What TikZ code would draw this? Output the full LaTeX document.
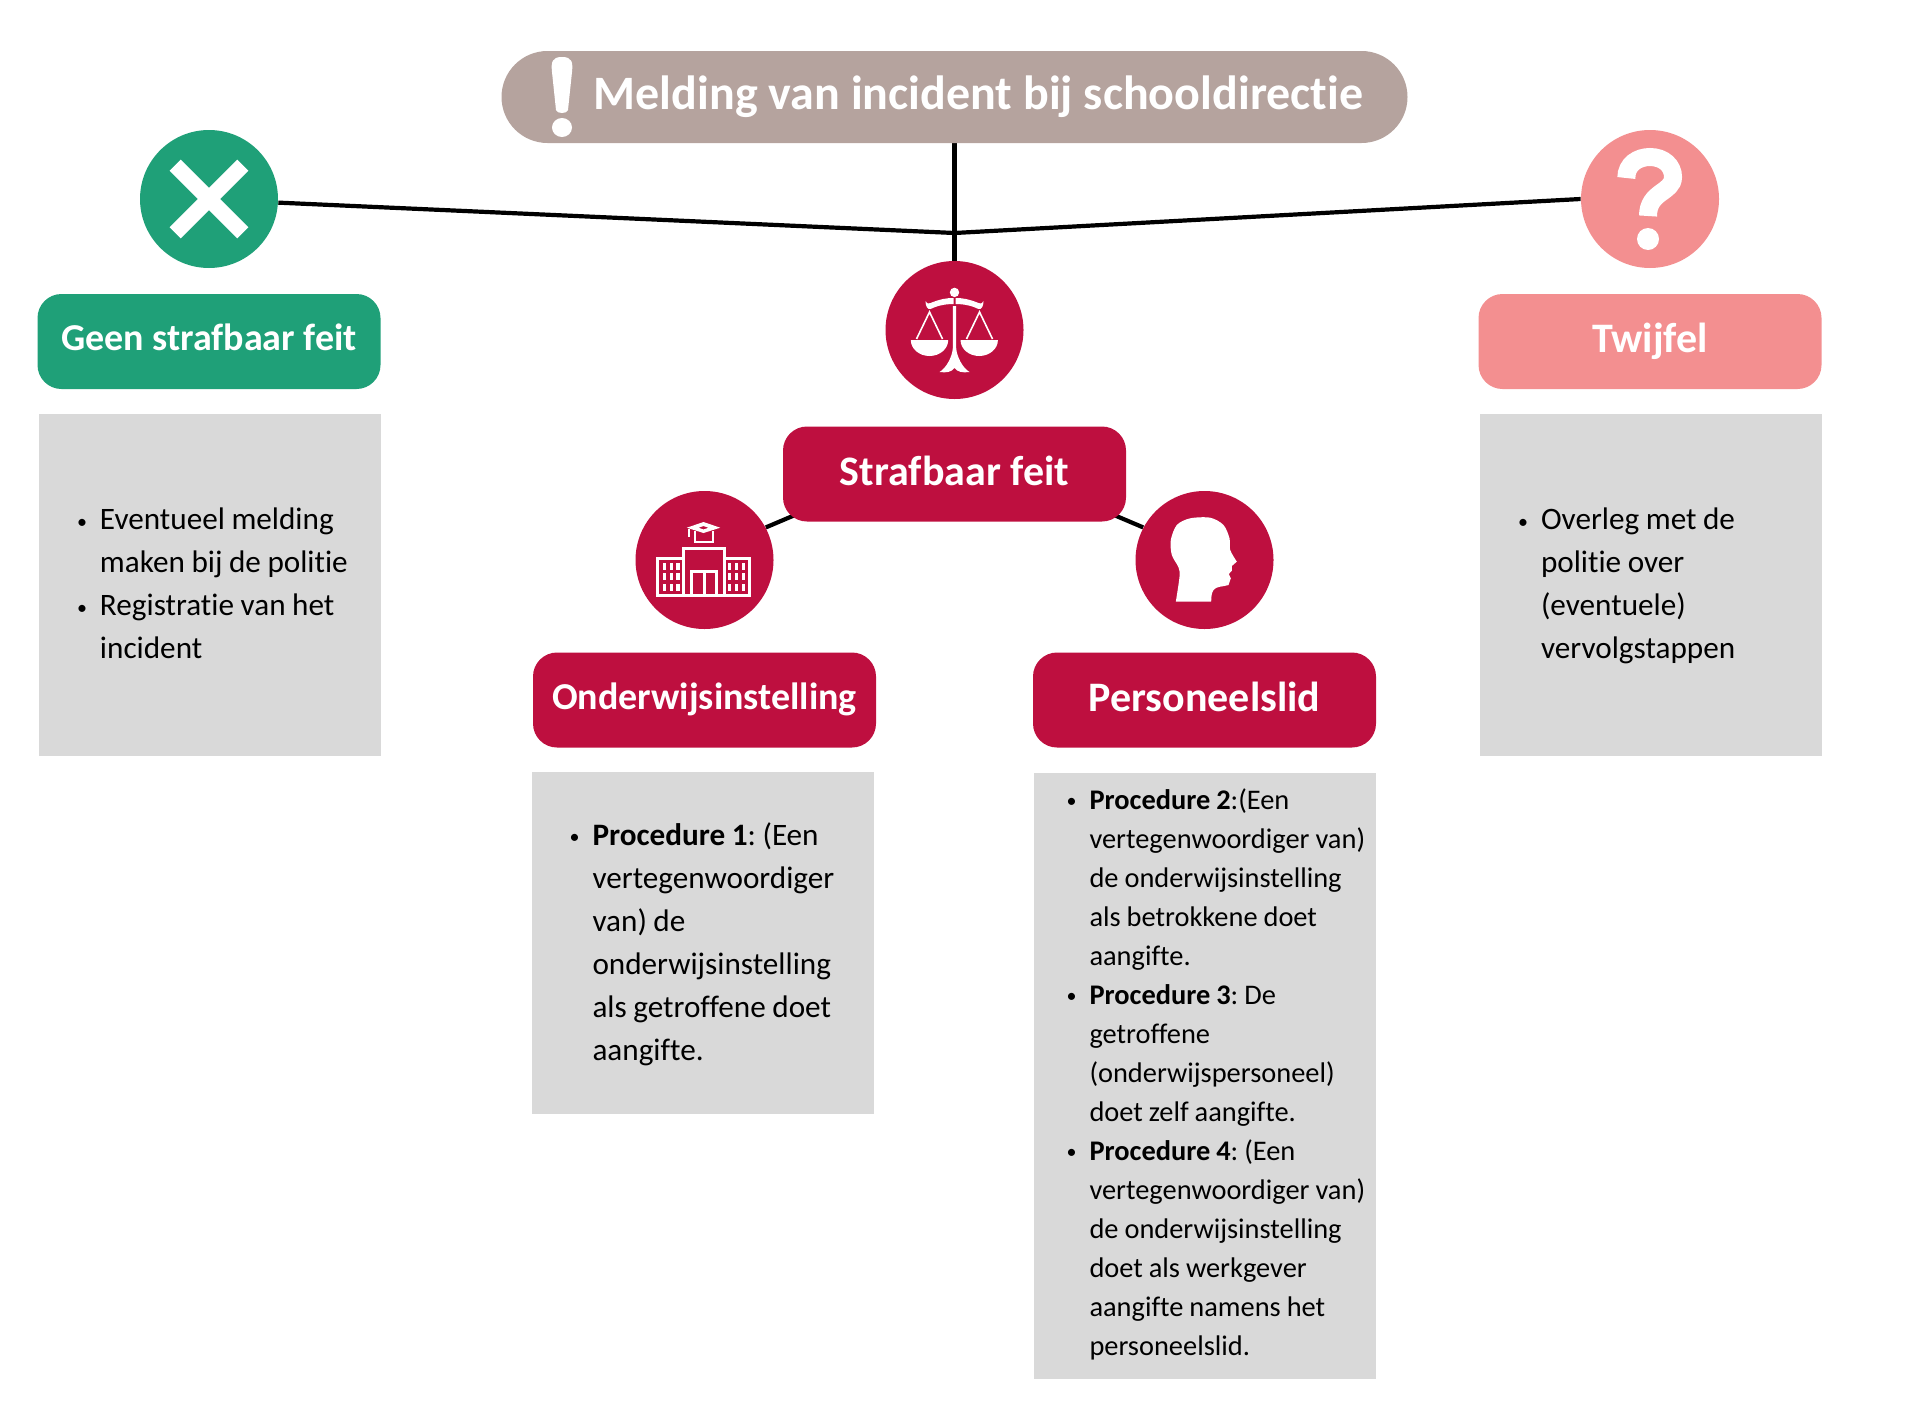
\documentclass[tikz,border=0pt]{standalone}
\usepackage{fontspec}
\setmainfont[Ligatures=NoCommon]{Carlito}
\usepackage{tikz}
\usetikzlibrary{positioning, backgrounds}

\definecolor{taupe}{HTML}{B5A39E}
\definecolor{groen}{HTML}{1FA078}
\definecolor{roze}{HTML}{F38F90}
\definecolor{rood}{HTML}{BE0F3F}
\definecolor{grijs}{HTML}{D9D9D9}

\newcommand{\punt}{\raisebox{.8pt}{\fontsize{10}{10}\selectfont\textbullet}}
\newenvironment{punten}[2]{\vspace*{#2}\begin{list}{\punt}{\setlength{\leftmargin}{#1}\setlength{\labelsep}{6.5pt}\setlength{\labelwidth}{10pt}\setlength{\topsep}{0pt}\setlength{\partopsep}{0pt}\setlength{\itemsep}{0pt}\setlength{\parsep}{0pt}\setlength{\rightmargin}{0pt}}\raggedright\frenchspacing\spaceskip=.21em\relax}{\end{list}}

\tikzset{
	icon/.style={circle,minimum size=69pt,inner sep=0pt},
	kop/.style={rectangle,rounded corners=12pt,minimum width=171.5pt,minimum height=47.5pt,inner sep=0pt,text=white,text height=16pt,text depth=5pt,font=\fontsize{21}{24}\selectfont\bfseries},
	kopklein/.style={kop,text height=14pt,font=\fontsize{19}{22}\selectfont\bfseries},
	blok/.style={rectangle,fill=grijs,text width=171pt,inner sep=0pt,font=\fontsize{15.6}{21.5}\selectfont},
	lijn/.style={line width=2.1pt,black}
}

\begin{document}
\begin{tikzpicture}[on grid,x=.5pt,y=-.5pt]
			\useasboundingbox (0,0) rectangle (1920,1408);
			\node[rectangle,rounded corners=23pt,fill=taupe,minimum width=453pt,minimum height=46pt,inner sep=0pt,text=white,font=\fontsize{24}{28}\selectfont\bfseries] (title) at (954.5,97) {\hspace*{24pt}Melding van incident bij schooldirectie};
			\node[icon,fill=rood] (scales) [below=116.5pt of title] {};
			\coordinate[below=68pt of title] (split);
			\node[kop,fill=rood] (strafbaar) [below=72pt of scales] {Strafbaar feit};
			\node[icon,fill=rood] (school) [below left=43pt and 125pt of strafbaar] {};
			\node[icon,fill=rood] (head) [below right=43pt and 125pt of strafbaar] {};
			\node[kopklein,fill=rood] (onderwijs) [below=70pt of school] {Onderwijsinstelling};
			\node[kop,fill=rood] (personeel) [below=70pt of head] {Personeelslid};
			\node[icon,fill=groen] (cross) [above left=65.5pt and 372.75pt of scales] {};
			\node[icon,fill=roze] (question) [above right=65.5pt and 347.75pt of scales] {};
			\node[kopklein,fill=groen] (geen) [below=71.25pt of cross] {Geen strafbaar feit};
			\node[kop,fill=roze] (twijfel) [below=71.25pt of question] {Twijfel};

			\node[blok,minimum height=171pt,xshift=.5pt] (geenblok) [below=121.5pt of geen] {\begin{punten}{30.5pt}{-11.5pt}
				\item Eventueel melding\\ maken bij de politie
				\item Registratie van het\\ incident
			\end{punten}};
			\node[blok,minimum height=171pt,xshift=.5pt] (twijfelblok) [below=121.5pt of twijfel] {\begin{punten}{30.5pt}{-9pt}
				\item Overleg met de\\ politie over\\ (eventuele)\\ vervolgstappen
			\end{punten}};
			\node[blok,minimum height=171pt,xshift=-1pt] (onderwijsblok) [below=121.5pt of onderwijs] {\begin{punten}{30.5pt}{-9pt}
				\item \textbf{Procedure 1}: (Een\\ vertegenwoordiger\\ van) de\\ onderwijsinstelling\\ als getroffene doet\\ aangifte.
			\end{punten}};
			\node[blok,minimum height=303pt,font=\fontsize{14.2}{19.5}\selectfont] (personeelblok) [below=187.75pt of personeel] {\begin{punten}{28pt}{-10.3pt}
				\item \textbf{Procedure 2}:(Een\\ vertegenwoordiger van)\\ de onderwijsinstelling\\ als betrokkene doet\\ aangifte.
				\item \textbf{Procedure 3}: De\\ getroffene\\ (onderwijspersoneel)\\ doet zelf aangifte.
				\item \textbf{Procedure 4}: (Een\\ vertegenwoordiger van)\\ de onderwijsinstelling\\ doet als werkgever\\ aangifte namens het\\ personeelslid.
			\end{punten}};

			\coordinate[above right=4pt and 7.5pt of strafbaar.south west] (links);
			\coordinate[above left=4pt and 7.5pt of strafbaar.south east] (rechts);
			\begin{scope}[on background layer]
				\draw[lijn] (title.south) -- (scales.north);
				\draw[lijn] (cross.-3) -- (split) -- (question.west);
				\draw[lijn] (school.28) -- (links);
				\draw[lijn] (head.152) -- (rechts);
			\end{scope}

			\fill[white] (562,57) .. controls (552,57) and (551,62) .. (552,72) -- (556,110) .. controls (557,114) and (567,114) .. (568,110) -- (572,72) .. controls (573,62) and (572,57) .. (562,57) -- cycle;
			\fill[white] (562,127.5) ellipse [x radius=10,y radius=9.5];

			\begin{scope}[shift={(cross.center)}]
				\draw[white,line width=7.8pt] (-33.8,-33.8) -- (33.8,33.8);
				\draw[white,line width=7.8pt] (-33.8,33.8) -- (33.8,-33.8);
			\end{scope}

			\begin{scope}[shift={(question.center)}]
				\draw[white,line width=9pt] (-23.7,-21) .. controls (-23.7,-35) and (-12,-42) .. (0,-42) .. controls (14,-42) and (23,-33) .. (23,-22) .. controls (23,-6) and (-2,-8) .. (-2,17);
				\fill[white] (-2,40) circle [radius=11];
			\end{scope}

			\begin{scope}[shift={(scales.center)}]
				\fill[white] (0,-37.6) circle [radius=4.7];
				\fill[white] (-29,-29) .. controls (-27,-26) and (-26,-26) .. (-24,-27) .. controls (-14,-31) and (-8,-32) .. (-1,-32) -- (-1,-26) .. controls (-10,-26) and (-18,-24) .. (-24,-21) .. controls (-27,-20) and (-29,-24) .. (-29,-29) -- cycle;
				\fill[white] (29,-29) .. controls (27,-26) and (26,-26) .. (24,-27) .. controls (14,-31) and (8,-32) .. (1,-32) -- (1,-26) .. controls (10,-26) and (18,-24) .. (24,-21) .. controls (27,-20) and (29,-24) .. (29,-29) -- cycle;
				\fill[white] (-1.7,-24) -- (1.7,-24) -- (1.7,18) .. controls (2,26) and (8,38) .. (15,42) .. controls (8,43) and (3,42) .. (0,38) .. controls (-3,42) and (-8,43) .. (-15,42) .. controls (-8,38) and (-2,26) .. (-1.7,18) -- cycle;
				\draw[white,line width=.8pt] (-38,9) -- (-25,-18) -- (-12,9);
				\draw[white,line width=.8pt] (12,9) -- (25,-18) -- (38,9);
				\fill[white] (-43.7,10) arc [start angle=180,end angle=360,x radius=18.7,y radius=-16] -- cycle;
				\fill[white] (6,10) arc [start angle=180,end angle=360,x radius=18.7,y radius=-16] -- cycle;
			\end{scope}

			\begin{scope}[shift={(school.center)}]
				\draw[white,line width=1.5pt] (-46.8,-1.8) rectangle (-21,35.8);
				\draw[white,line width=1.5pt] (20,-1.8) rectangle (45.2,35.8);
				\draw[white,line width=1.5pt] (-21,-11.8) rectangle (20,35.8);
				\draw[white,line width=1.5pt] (-12.8,11.5) rectangle (11.8,35.8);
				\draw[white,line width=1.5pt] (-.5,11.5) -- (-.5,35.8);
				\foreach \kolom in {-40.3,-33.3,-26.7,25,31.7,38.7}
					\foreach \rij in {6.7,16.7,27.3}
						\fill[white] (\kolom-1.7,\rij-3.3) rectangle (\kolom+1.7,\rij+3.3);
				\fill[white,even odd rule] (-17.7,-32.3) -- (-1,-38) -- (15.7,-32.3) -- (-1,-27) -- cycle (-6,-32.3) -- (-1,-34) -- (4,-32.3) -- (-1,-30.5) -- cycle;
				\draw[white,line width=1pt] (-10,-29) -- (-10,-18.5) -- (8,-18.5) -- (8,-29);
				\draw[white,line width=1pt] (-16,-31) -- (-16,-23);
			\end{scope}

			\begin{scope}[shift={(head.center)}]
				\fill[white] plot[smooth] coordinates {(-28.7,41.7) (-25,16.7) (-26,7.3) (-32.7,-5) (-33.7,-20) (-27.7,-35) (-14.3,-41.7) (5.7,-42.3) (19,-35) (25,-21.7) (25.7,-10) (32.3,1.7)} -- (27.3,6) -- (27.3,10.7) -- (24.3,14) -- (26.3,18.3) -- (24,25) .. controls (18,27) and (12,26) .. (9,30) .. controls (7,33) and (6.7,37) .. (6.7,41.7) -- cycle;
			\end{scope}
		\end{tikzpicture}
\end{document}
